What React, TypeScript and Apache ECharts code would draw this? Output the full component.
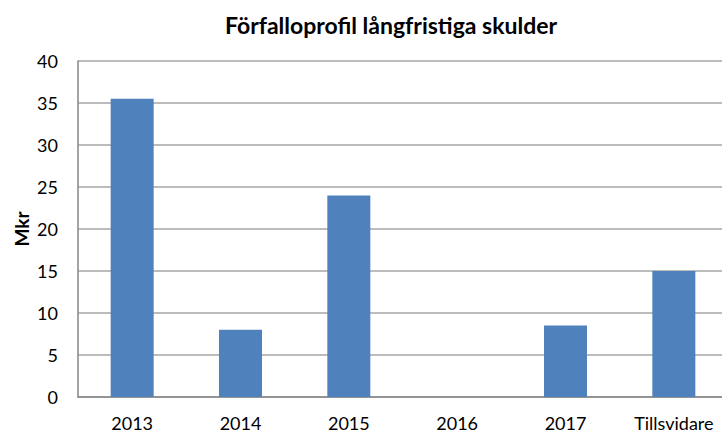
import React, { useEffect, useRef } from "react";
import * as echarts from "echarts";

const categories = ["2013", "2014", "2015", "2016", "2017", "Tillsvidare"];
const values = [35.5, 8, 24, 0, 8.5, 15];
const yTicks = [0, 5, 10, 15, 20, 25, 30, 35, 40];

export default function App() {
  const ref = useRef<HTMLDivElement>(null);
  useEffect(() => {
    const chart = echarts.init(ref.current!, null, { renderer: "svg" });
    chart.setOption({
      animation: false,
      backgroundColor: "#ffffff",
      title: {
        text: "Förfalloprofil långfristiga skulder",
        left: 386,
        textAlign: "center",
        top: 8,
        textStyle: { fontFamily: "Lato", fontWeight: "bold", fontSize: 23, color: "#000" },
      },
      grid: { left: 78, right: -6, top: 61, bottom: 37, containLabel: false, outerBoundsMode: "none" },
      xAxis: {
        type: "category",
        data: categories,
        axisLine: { lineStyle: { color: "#868686", width: 1.5 } },
        axisTick: { show: false },
        axisLabel: { fontFamily: "Lato", fontSize: 18, lineHeight: 16, color: "#000", margin: 18 },
      },
      yAxis: {
        type: "value",
        min: yTicks[0],
        max: yTicks[yTicks.length - 1],
        interval: 5,
        name: "Mkr",
        nameLocation: "middle",
        nameRotate: 90,
        nameGap: 47,
        nameMoveOverlap: false,
        nameTextStyle: { fontFamily: "Lato", fontWeight: "bold", fontSize: 19, color: "#000" },
        axisLine: { show: true, lineStyle: { color: "#868686", width: 1.5 } },
        axisTick: { show: false },
        axisLabel: { fontFamily: "Lato", fontSize: 18, color: "#000", margin: 20 },
        splitLine: { lineStyle: { color: "#A6A6A6", width: 1.5 } },
      },
      series: [
        {
          type: "bar",
          data: values,
          barWidth: 43,
          itemStyle: { color: "#4F81BD" },
        },
      ],
    });
    return () => chart.dispose();
  }, []);
  return <div ref={ref} style={{ width: 722, height: 434, position: "absolute", left: 0, top: 0 }} />;
}
